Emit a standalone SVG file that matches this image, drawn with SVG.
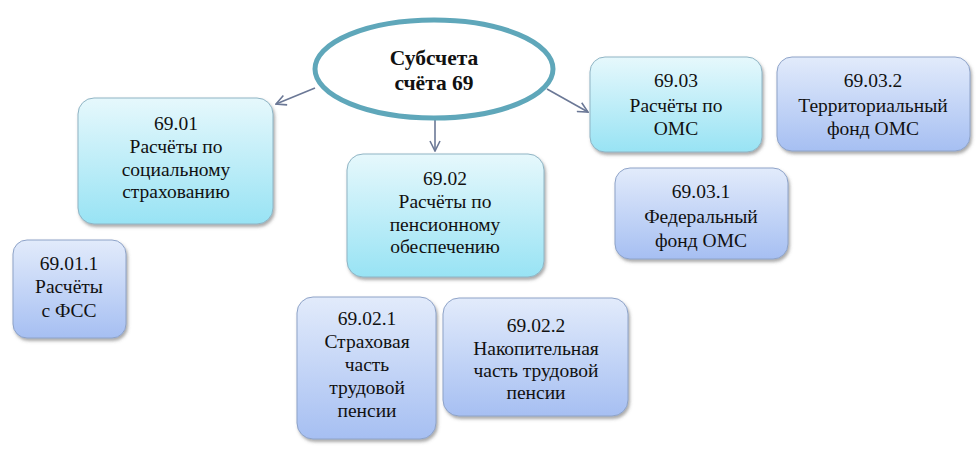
<svg xmlns="http://www.w3.org/2000/svg" width="979" height="463" viewBox="0 0 979 463">
<defs>
<linearGradient id="gCyan" x1="0" y1="0" x2="0" y2="1">
<stop offset="0" stop-color="#e6f8fc"/>
<stop offset="1" stop-color="#98e3f4"/>
</linearGradient>
<linearGradient id="gBlue" x1="0" y1="0" x2="0" y2="1">
<stop offset="0" stop-color="#e2ebfb"/>
<stop offset="1" stop-color="#a6bff2"/>
</linearGradient>
<filter id="sh" x="-10%" y="-10%" width="125%" height="130%">
<feDropShadow dx="1.5" dy="2.5" stdDeviation="1.8" flood-color="#555" flood-opacity="0.5"/>
</filter>
<marker id="ah" viewBox="0 0 12 12" refX="11" refY="6" markerWidth="12" markerHeight="12" markerUnits="userSpaceOnUse" orient="auto">
<path d="M1,1 L11,6 L1,11" fill="none" stroke="#6b7896" stroke-width="1.6"/>
</marker>
</defs>
<style>
.cy{fill:url(#gCyan);stroke:#8fb4c4;stroke-width:1;filter:url(#sh)}
.bl{fill:url(#gBlue);stroke:#8ea3c8;stroke-width:1;filter:url(#sh)}
.t{font-family:'Liberation Serif','Times New Roman',serif;font-size:19.5px;fill:#111;text-anchor:middle}
.h{font-family:'Liberation Serif','Times New Roman',serif;font-size:21.5px;font-weight:bold;fill:#111;text-anchor:middle}
.c{fill:none;stroke:#6b7896;stroke-width:1.6;marker-end:url(#ah)}
</style>
<rect width="979" height="463" fill="#ffffff"/>
<g id="connectors">
<line class="c" x1="315" y1="88" x2="276" y2="104"/>
<line class="c" x1="435" y1="120" x2="435" y2="151"/>
<line class="c" x1="547" y1="89" x2="588" y2="112"/>
</g>
<g id="root">
<ellipse cx="434" cy="69" rx="119" ry="49" fill="#ffffff" stroke="#5fa7ba" stroke-width="5"/>
<text class="h" x="434" y="65">Субсчета</text>
<text class="h" x="434" y="90">счёта 69</text>
</g>
<g id="n6901">
<rect class="cy" x="78" y="98" width="195" height="126" rx="16"/>
<text class="t" x="176" y="130">69.01</text>
<text class="t" x="176" y="153">Расчёты по</text>
<text class="t" x="176" y="176">социальному</text>
<text class="t" x="176" y="198">страхованию</text>
</g>
<g id="n69011">
<rect class="bl" x="13" y="240" width="113" height="98" rx="14"/>
<text class="t" x="69" y="270">69.01.1</text>
<text class="t" x="69" y="293">Расчёты</text>
<text class="t" x="69" y="317">с ФСС</text>
</g>
<g id="n6902">
<rect class="cy" x="347" y="154" width="197" height="123" rx="16"/>
<text class="t" x="445" y="185">69.02</text>
<text class="t" x="445" y="208">Расчёты по</text>
<text class="t" x="445" y="231">пенсионному</text>
<text class="t" x="445" y="253">обеспечению</text>
</g>
<g id="n69021">
<rect class="bl" x="297" y="297" width="139" height="142" rx="16"/>
<text class="t" x="367" y="325">69.02.1</text>
<text class="t" x="367" y="348">Страховая</text>
<text class="t" x="367" y="371">часть</text>
<text class="t" x="367" y="394">трудовой</text>
<text class="t" x="367" y="417">пенсии</text>
</g>
<g id="n69022">
<rect class="bl" x="443" y="298" width="185" height="118" rx="16"/>
<text class="t" x="536" y="332">69.02.2</text>
<text class="t" x="536" y="355">Накопительная</text>
<text class="t" x="536" y="377">часть трудовой</text>
<text class="t" x="536" y="399">пенсии</text>
</g>
<g id="n6903">
<rect class="cy" x="590" y="57" width="172" height="95" rx="15"/>
<text class="t" x="676" y="87">69.03</text>
<text class="t" x="676" y="112">Расчёты по</text>
<text class="t" x="676" y="135">ОМС</text>
</g>
<g id="n69032">
<rect class="bl" x="777" y="57" width="193" height="94" rx="15"/>
<text class="t" x="873" y="87">69.03.2</text>
<text class="t" x="873" y="112">Территориальный</text>
<text class="t" x="873" y="135">фонд ОМС</text>
</g>
<g id="n69031">
<rect class="bl" x="615" y="168" width="173" height="91" rx="15"/>
<text class="t" x="701" y="198">69.03.1</text>
<text class="t" x="701" y="223">Федеральный</text>
<text class="t" x="701" y="247">фонд ОМС</text>
</g>
</svg>
